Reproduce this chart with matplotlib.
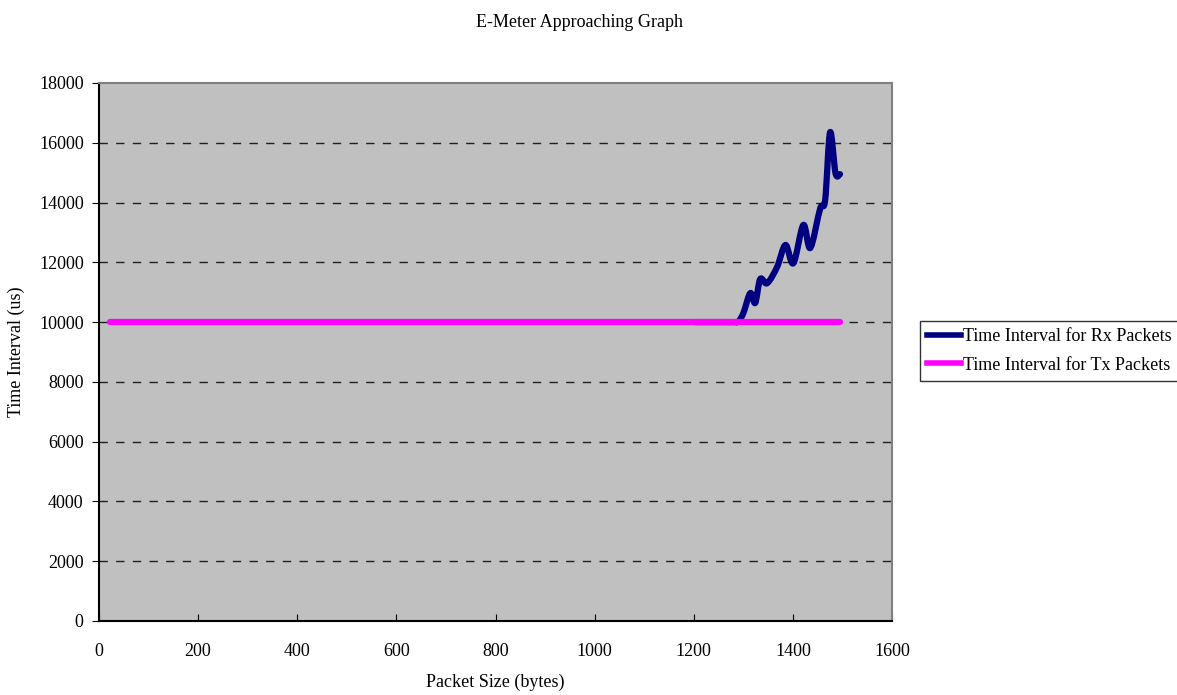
import numpy as np
import matplotlib
matplotlib.use('Agg')
import matplotlib.pyplot as plt
from matplotlib.path import Path
from matplotlib.patches import PathPatch
from matplotlib.lines import Line2D

plt.rcParams['font.family'] = ['Liberation Serif', 'DejaVu Serif']

# Rx: packet size vs time interval
rx_size = [1200, 1220, 1240, 1260, 1280, 1290, 1300, 1314, 1324, 1334, 1348, 1368,
           1385, 1401, 1421, 1435, 1455, 1465, 1475, 1486, 1495]
rx_time = [10000, 10000, 10000, 10000, 10000, 10020, 10300, 10970, 10640, 11440, 11300, 11840,
           12580, 11970, 13250, 12480, 13800, 14080, 16350, 14980, 14950]

# Tx: constant
tx_size = [22, 200, 400, 600, 800, 1000, 1200, 1400, 1495]
tx_time = [10000, 10000, 10000, 10000, 10000, 10000, 10000, 10000, 10000]

y_ticks = [0, 2000, 4000, 6000, 8000, 10000, 12000, 14000, 16000, 18000]
x_ticks = [0, 200, 400, 600, 800, 1000, 1200, 1400, 1600]

RX_COLOR = '#000080'
TX_COLOR = '#ff00ff'


def smooth_path(xs, ys):
    # excel-like smoothed line: catmull-rom segments as cubic beziers
    p = np.column_stack([xs, ys]).astype(float)
    verts = [p[0]]
    codes = [Path.MOVETO]
    n = len(p)
    for i in range(n - 1):
        p0 = p[i - 1] if i > 0 else p[i]
        p3 = p[i + 2] if i + 2 < n else p[i + 1]
        c1 = p[i] + (p[i + 1] - p0) / 6
        c2 = p[i + 1] - (p3 - p[i]) / 6
        verts += [c1, c2, p[i + 1]]
        codes += [Path.CURVE4] * 3
    return Path(verts, codes)


fig = plt.figure(figsize=(11.77, 6.95), dpi=100)
ax = fig.add_axes([0.0841, 0.1065, 0.6738, 0.7741])
ax.set_facecolor('#c0c0c0')

for y in y_ticks[1:-1]:
    ax.axhline(y, color='#202020', lw=1, ls=(0, (6, 6)), zorder=1)

ax.add_patch(PathPatch(smooth_path(rx_size, rx_time), fill=False, edgecolor=RX_COLOR,
                       lw=4.5, capstyle='round', joinstyle='round', zorder=3))
ax.plot(tx_size, tx_time, color=TX_COLOR, lw=4.5, solid_capstyle='round', zorder=4)

ax.set_xlim(0, 1600)
ax.set_ylim(0, 18000)
ax.set_xticks(x_ticks)
ax.set_yticks(y_ticks)
ax.tick_params(axis='x', direction='in', length=5, labelsize=13, pad=16)
ax.tick_params(axis='y', direction='out', length=5, labelsize=13, pad=6)

for s in ['top', 'right']:
    ax.spines[s].set_color('#808080')
    ax.spines[s].set_linewidth(1.5)
for s in ['left', 'bottom']:
    ax.spines[s].set_color('#000000')
    ax.spines[s].set_linewidth(1.5)

ax.set_xlabel('Packet Size (bytes)', fontsize=13, labelpad=10)
ax.set_ylabel('Time Interval (us)', fontsize=13, labelpad=10)
fig.text(0.492, 0.967, 'E-Meter Approaching Graph', ha='center', va='center', fontsize=13)

handles = [Line2D([], [], color=RX_COLOR, lw=4),
           Line2D([], [], color=TX_COLOR, lw=4)]
labels = ['Time Interval for Rx Packets', 'Time Interval for Tx Packets']
leg = ax.legend(handles, labels, loc='center left', bbox_to_anchor=(1.035, 0.502), fontsize=13,
                frameon=True, fancybox=False, handlelength=1.9, handletextpad=0.1,
                borderpad=0.4, labelspacing=0.65, borderaxespad=0)
leg.get_frame().set_edgecolor('#000000')
leg.get_frame().set_linewidth(1)

fig.savefig('out.png', dpi=100)
